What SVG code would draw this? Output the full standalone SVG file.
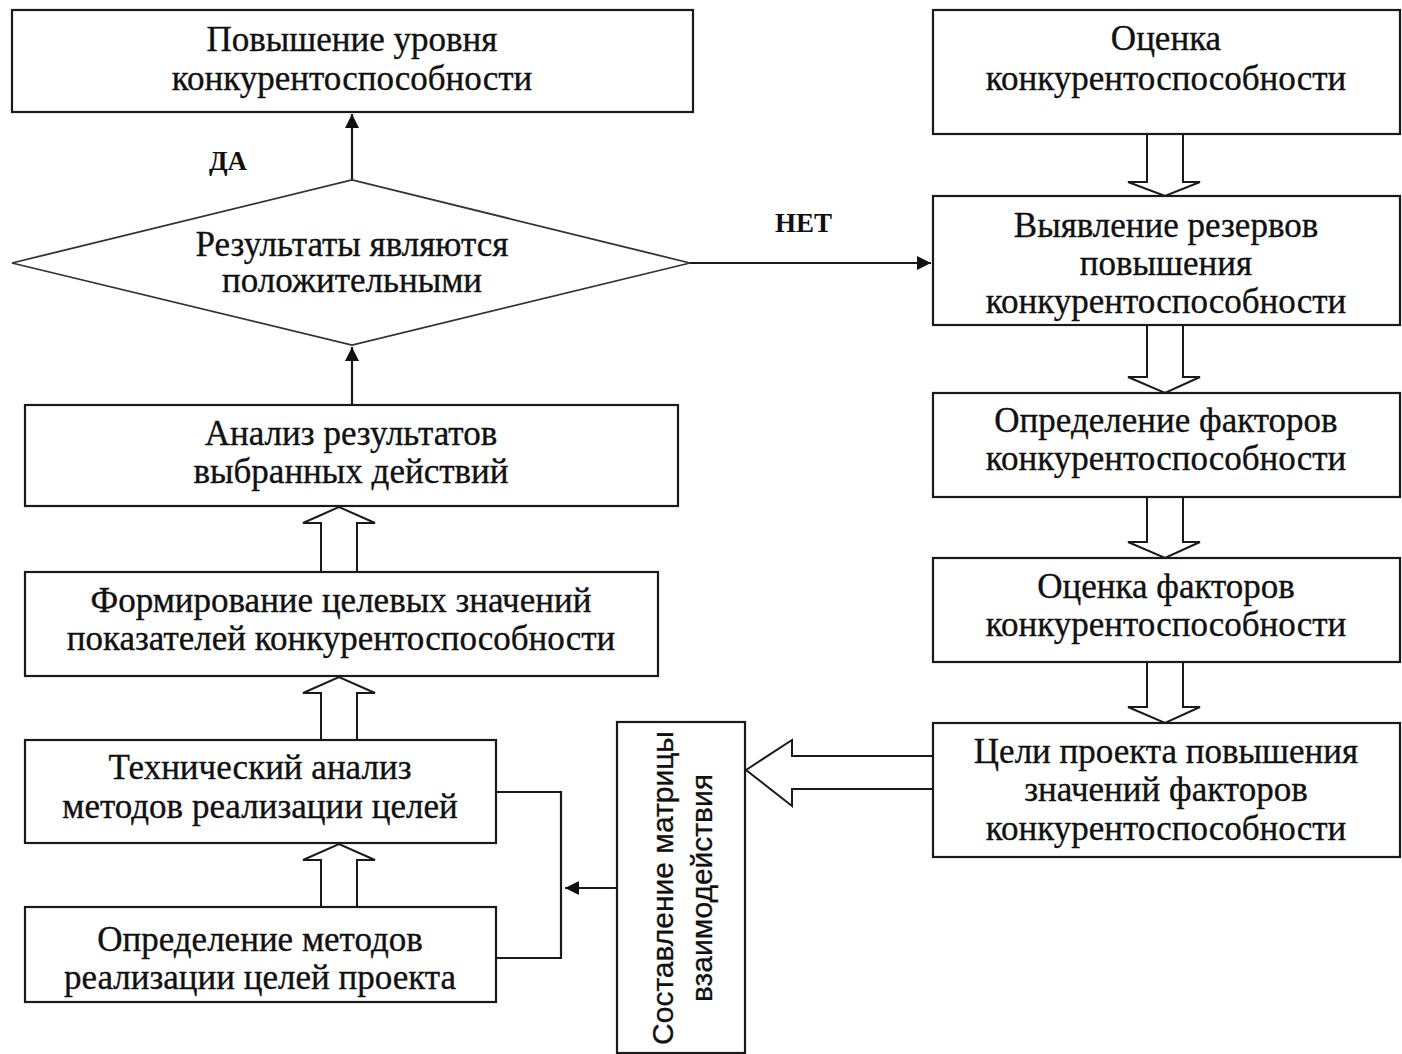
<svg xmlns="http://www.w3.org/2000/svg" width="1402" height="1054" viewBox="0 0 1402 1054">
<defs>
<style>
.box{fill:#fff;stroke:#1a1a1a;stroke-width:2.2}
.t{font-family:"Liberation Serif","Times New Roman",serif;font-size:35px;fill:#111;stroke:#111;stroke-width:0.35;text-anchor:middle}
.s{font-family:"Liberation Sans",Arial,sans-serif;font-size:30px;fill:#111;stroke:#111;stroke-width:0.3;text-anchor:middle}
.lbl{font-family:"Liberation Serif","Times New Roman",serif;font-size:27px;font-weight:bold;fill:#111}
.ln{fill:none;stroke:#1a1a1a;stroke-width:2.2}
.hol{fill:#fff;stroke:#1a1a1a;stroke-width:2;stroke-linejoin:miter}
</style>
<marker id="ah" viewBox="0 0 10 10" refX="10" refY="5" markerWidth="6.5" markerHeight="6.5" markerUnits="strokeWidth" orient="auto">
<path d="M0,0 L10,5 L0,10 z" fill="#111"/>
</marker>
</defs>
<rect width="1402" height="1054" fill="#fff"/>

<g id="connectors">
<line class="ln" x1="352" y1="180" x2="352" y2="114" marker-end="url(#ah)"/>
<line class="ln" x1="352" y1="405" x2="352" y2="347" marker-end="url(#ah)"/>
<line class="ln" x1="690" y1="263" x2="931" y2="263" marker-end="url(#ah)"/>
<polyline class="ln" points="496,792 561,792 561,958 496,958"/>
<line class="ln" x1="617" y1="888" x2="565" y2="888" marker-end="url(#ah)"/>
<path class="hol" d="M1147,134 L1147,182 L1128,182 L1165,196 L1200,182 L1183,182 L1183,134"/>
<path class="hol" d="M1147,325 L1147,377 L1128,377 L1165,393 L1200,377 L1183,377 L1183,325"/>
<path class="hol" d="M1147,497 L1147,542 L1128,542 L1165,558 L1200,542 L1183,542 L1183,497"/>
<path class="hol" d="M1147,662 L1147,707 L1128,707 L1165,723 L1200,707 L1183,707 L1183,662"/>
<path class="hol" d="M321,572 L321,523 L303,523 L339,507 L375,523 L357,523 L357,572"/>
<path class="hol" d="M321,740 L321,693 L303,693 L339,677 L375,693 L357,693 L357,740"/>
<path class="hol" d="M321,907 L321,860 L303,860 L339,844 L375,860 L357,860 L357,907"/>
<path class="hol" d="M933,756 L792,756 L792,740 L746,770 L792,806 L792,789 L933,789"/>
<text class="lbl" x="209" y="170">ДА</text>
<text class="lbl" x="775" y="232">НЕТ</text>
</g>

<g id="n_povyshenie">
<rect class="box" x="12" y="10" width="681" height="102"/>
<text class="t" x="352" y="51">Повышение уровня</text>
<text class="t" x="352" y="90">конкурентоспособности</text>
</g>

<g id="n_decision">
<polygon points="12,263 352,180 690,263 352,345" fill="#fff" stroke="#333" stroke-width="1.8"/>
<text class="t" x="352" y="256">Результаты являются</text>
<text class="t" x="352" y="292">положительными</text>
</g>

<g id="n_analiz">
<rect class="box" x="25" y="405" width="653" height="101"/>
<text class="t" x="351" y="445">Анализ результатов</text>
<text class="t" x="351" y="483">выбранных действий</text>
</g>

<g id="n_formirovanie">
<rect class="box" x="25" y="572" width="633" height="104"/>
<text class="t" x="341" y="612">Формирование целевых значений</text>
<text class="t" x="341" y="650">показателей конкурентоспособности</text>
</g>

<g id="n_tehanaliz">
<rect class="box" x="25" y="740" width="471" height="103"/>
<text class="t" x="260" y="779">Технический анализ</text>
<text class="t" x="260" y="818">методов реализации целей</text>
</g>

<g id="n_opr_metodov">
<rect class="box" x="25" y="907" width="471" height="95"/>
<text class="t" x="260" y="951">Определение методов</text>
<text class="t" x="260" y="989">реализации целей проекта</text>
</g>

<g id="n_matrica">
<rect class="box" x="617" y="722" width="128" height="331"/>
<text class="s" transform="translate(673,888) rotate(-90)">Составление матрицы</text>
<text class="s" transform="translate(712,888) rotate(-90)">взаимодействия</text>
</g>

<g id="n_ocenka">
<rect class="box" x="933" y="10" width="467" height="124"/>
<text class="t" x="1166" y="50">Оценка</text>
<text class="t" x="1166" y="90">конкурентоспособности</text>
</g>

<g id="n_vyyavlenie">
<rect class="box" x="933" y="196" width="467" height="129"/>
<text class="t" x="1166" y="237">Выявление резервов</text>
<text class="t" x="1166" y="275">повышения</text>
<text class="t" x="1166" y="313">конкурентоспособности</text>
</g>

<g id="n_opr_faktorov">
<rect class="box" x="933" y="393" width="467" height="104"/>
<text class="t" x="1166" y="432">Определение факторов</text>
<text class="t" x="1166" y="470">конкурентоспособности</text>
</g>

<g id="n_ocenka_faktorov">
<rect class="box" x="933" y="558" width="467" height="104"/>
<text class="t" x="1166" y="598">Оценка факторов</text>
<text class="t" x="1166" y="636">конкурентоспособности</text>
</g>

<g id="n_celi">
<rect class="box" x="933" y="723" width="467" height="134"/>
<text class="t" x="1166" y="763">Цели проекта повышения</text>
<text class="t" x="1166" y="801">значений факторов</text>
<text class="t" x="1166" y="840">конкурентоспособности</text>
</g>
</svg>
